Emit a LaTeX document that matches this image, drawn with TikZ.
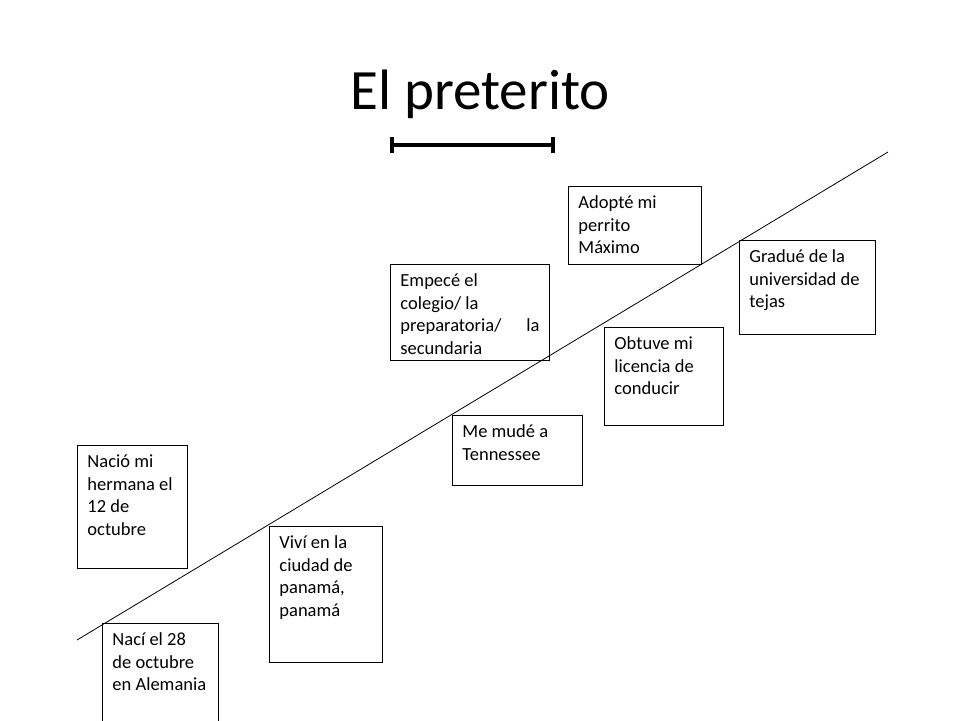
\documentclass[tikz,border=0pt]{standalone}
\usepackage{fontspec}
\setmainfont{Carlito}
\newcommand{\caja}[3]{\parbox[t][#2][t]{#1}{\raggedright\rule{0pt}{22pt}#3}}
\begin{document}
\begin{tikzpicture}[x=1pt, y=-1pt,
		evento/.style={draw, line width=0.9pt, anchor=north west, inner xsep=10pt, inner ysep=0pt, font=\fontsize{18.5}{22.7}\selectfont}]
			\clip (0, 0) rectangle (960, 720);
			\node[anchor=base, inner sep=0pt, font=\fontsize{57}{60}\selectfont] (titulo) at (480, 109) {El preterito};
			% barra bajo el titulo
			\coordinate (bi) at (392, 145);
			\coordinate (bd) at (553, 145);
			\draw [line width = 4pt] (bi) -- (bd);
			\draw [line width = 4pt] ([yshift=-8pt]bi) -- ([yshift=8pt]bi);
			\draw [line width = 4pt] ([yshift=-8pt]bd) -- ([yshift=8pt]bd);
			% linea del tiempo
			\coordinate (inicio) at (77, 640);
			\coordinate (fin) at (888, 152);
			\draw [line width = 0.8pt] (inicio) -- (fin);
			% eventos
			\node[evento] (hermana) at (77, 445) {\caja{90pt}{123pt}{Nació mi\\hermana el\\12 de\\octubre}};
			\node[evento] (naci) at (102, 623) {\caja{96pt}{120pt}{Nací el 28\\de octubre\\en Alemania}};
			\node[evento] (panama) at (269, 526) {\caja{93pt}{136pt}{Viví en la\\ciudad de\\panamá,\\panamá}};
			\node[evento] (colegio) at (390, 264) {\caja{139pt}{96pt}{Empecé el\\colegio/ la\\preparatoria/\hfill la\hspace*{5pt}\\secundaria}};
			\node[evento] (mude) at (452, 415) {\caja{110pt}{70pt}{Me mudé a\\Tennessee}};
			\node[evento] (perrito) at (568, 186) {\caja{113pt}{78pt}{Adopté mi\\perrito\\Máximo}};
			\node[evento] (licencia) at (604, 327) {\caja{99pt}{98pt}{Obtuve mi\\licencia de\\conducir}};
			\node[evento] (gradue) at (739, 240) {\caja{116pt}{94pt}{Gradué de la\\universidad de\\tejas}};
\end{tikzpicture}
\end{document}
